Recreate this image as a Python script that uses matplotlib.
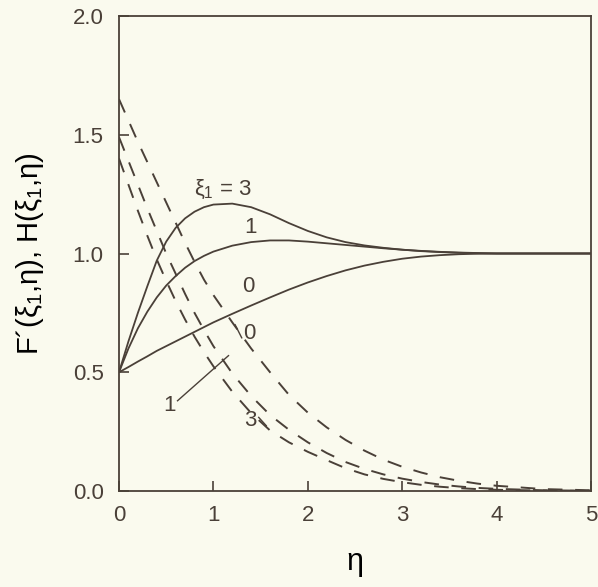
import matplotlib
matplotlib.use("Agg")
import matplotlib.pyplot as plt

# values
eta = [0, 0.1, 0.2, 0.3, 0.4, 0.5, 0.6, 0.7, 0.8, 0.9, 1.0, 1.2, 1.4, 1.6, 1.8,
       2.0, 2.2, 2.4, 2.6, 2.8, 3.0, 3.2, 3.4, 3.6, 3.8, 4.0, 4.5, 5.0]

# F'(xi1, eta), solid
f_xi0 = [0.500, 0.522, 0.545, 0.567, 0.590, 0.610, 0.630, 0.650, 0.670, 0.690, 0.710,
         0.746, 0.781, 0.815, 0.848, 0.878, 0.905, 0.929, 0.949, 0.965, 0.978, 0.987,
         0.993, 0.997, 0.999, 1.000, 1.000, 1.000]
f_xi1 = [0.500, 0.600, 0.685, 0.755, 0.815, 0.865, 0.905, 0.940, 0.968, 0.990, 1.008,
         1.033, 1.048, 1.055, 1.055, 1.050, 1.043, 1.036, 1.029, 1.022, 1.016, 1.011,
         1.007, 1.004, 1.002, 1.000, 1.000, 1.000]
f_xi3 = [0.500, 0.630, 0.750, 0.862, 0.970, 1.050, 1.108, 1.148, 1.176, 1.195, 1.206,
         1.210, 1.195, 1.165, 1.128, 1.095, 1.068, 1.048, 1.034, 1.024, 1.016, 1.010,
         1.006, 1.003, 1.001, 1.000, 1.000, 1.000]

# H(xi1, eta), dashed
h_xi0 = [1.650, 1.560, 1.470, 1.385, 1.300, 1.215, 1.130, 1.045, 0.965, 0.890, 0.825,
         0.710, 0.600, 0.500, 0.405, 0.330, 0.268, 0.215, 0.170, 0.132, 0.102, 0.078,
         0.058, 0.043, 0.031, 0.022, 0.008, 0.003]
h_xi1 = [1.490, 1.390, 1.290, 1.190, 1.095, 1.000, 0.915, 0.830, 0.750, 0.678, 0.610,
         0.495, 0.400, 0.320, 0.258, 0.205, 0.160, 0.122, 0.093, 0.070, 0.052, 0.038,
         0.027, 0.019, 0.013, 0.009, 0.003, 0.001]
h_xi3 = [1.400, 1.290, 1.180, 1.075, 0.975, 0.885, 0.800, 0.722, 0.650, 0.585, 0.525,
         0.418, 0.328, 0.255, 0.205, 0.165, 0.130, 0.096, 0.070, 0.051, 0.037, 0.026,
         0.018, 0.012, 0.008, 0.005, 0.002, 0.000]

x_ticks = [0, 1, 2, 3, 4, 5]
y_ticks = [0.0, 0.5, 1.0, 1.5, 2.0]
y_ticklabels = ["0.0", "0.5", "1.0", "1.5", "2.0"]

ink = "#4a4038"
paper = "#fafaee"

plt.rcParams["font.family"] = ["Liberation Sans", "DejaVu Sans"]
plt.rcParams["mathtext.fontset"] = "custom"
plt.rcParams["mathtext.rm"] = "Liberation Sans"
plt.rcParams["mathtext.it"] = "Liberation Sans"
plt.rcParams["mathtext.bf"] = "Liberation Sans:bold"
plt.rcParams["text.color"] = ink

fig = plt.figure(figsize=(5.98, 5.87), dpi=100, facecolor=paper)
ax = fig.add_axes([119 / 598, 1 - 491 / 587, 472 / 598, 475 / 587])
ax.set_facecolor(paper)

for f in (f_xi0, f_xi1, f_xi3):
    ax.plot(eta, f, color=ink, lw=1.3, solid_capstyle="butt")
for h in (h_xi0, h_xi1, h_xi3):
    ax.plot(eta, h, color=ink, lw=1.4, ls=(0, (7.5, 6.5)))

ax.set_xlim(0, 5)
ax.set_ylim(0, 2)
ax.set_xticks(x_ticks)
ax.set_yticks(y_ticks)
ax.set_yticklabels(y_ticklabels)
ax.tick_params(direction="in", length=7, width=1.2, colors=ink, labelsize=16)
ax.tick_params(axis="y", pad=11)
ax.tick_params(axis="x", pad=10)
for s in ax.spines.values():
    s.set_color(ink)
    s.set_linewidth(1.3)

ax.set_xlabel("η", fontsize=22, labelpad=15)
ax.set_ylabel("F´($\\xi_1$,η), H($\\xi_1$,η)", fontsize=21, labelpad=19)

# curve labels
ax.text(1.10, 1.27, "$\\xi_1$ = 3", fontsize=16, ha="center", va="center")
ax.text(1.39, 1.11, "1", fontsize=16, ha="center", va="center")
ax.text(1.37, 0.86, "0", fontsize=16, ha="center", va="center")
ax.text(1.38, 0.665, "0", fontsize=16, ha="center", va="center")
ax.plot([1.23, 1.30], [0.70, 0.645], color=ink, lw=1.0)
ax.text(0.54, 0.36, "1", fontsize=16, ha="center", va="center")
ax.plot([0.62, 1.16], [0.38, 0.57], color=ink, lw=1.0)
ax.text(1.39, 0.295, "3", fontsize=16, ha="center", va="center")
ax.plot([1.48, 1.56], [0.31, 0.275], color=ink, lw=1.0)

fig.savefig("out.png", dpi=100, facecolor=paper)
